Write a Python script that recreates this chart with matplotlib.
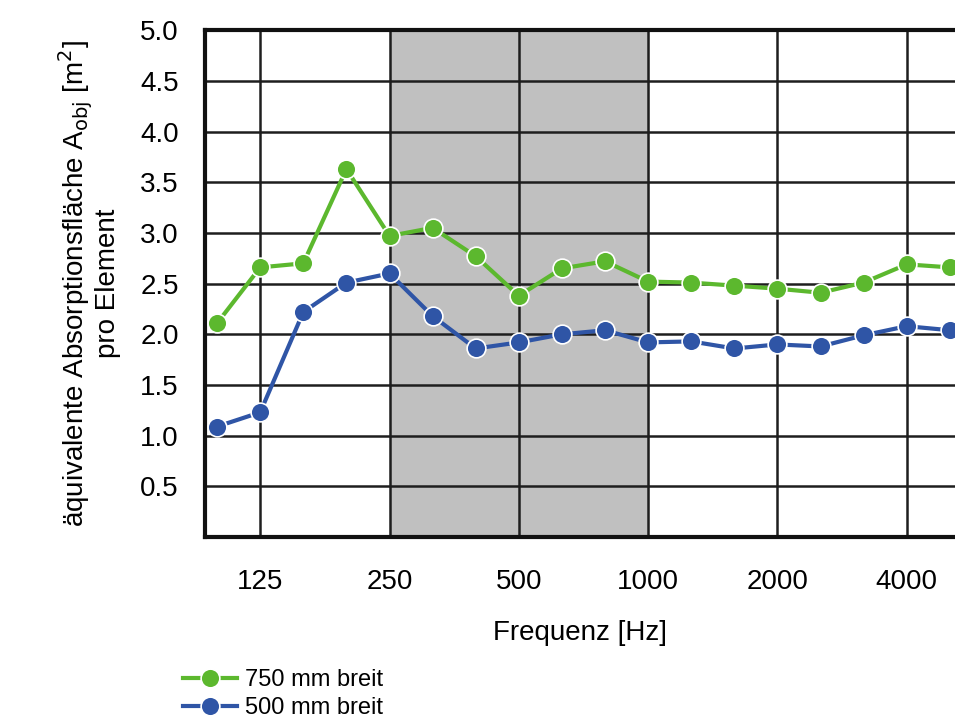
import matplotlib

matplotlib.use("Agg")
import matplotlib.pyplot as plt
import numpy as np

plt.rcParams["font.family"] = ["Liberation Sans", "DejaVu Sans"]

# third-octave bands 100 Hz .. 5000 Hz
bands = [100, 125, 160, 200, 250, 315, 400, 500, 630, 800,
         1000, 1250, 1600, 2000, 2500, 3150, 4000, 5000]
a_750 = [2.11, 2.66, 2.70, 3.63, 2.97, 3.05, 2.77, 2.38, 2.65, 2.72,
         2.52, 2.51, 2.48, 2.45, 2.41, 2.51, 2.69, 2.66]
a_500 = [1.09, 1.23, 2.22, 2.51, 2.60, 2.18, 1.86, 1.92, 2.00, 2.04,
         1.92, 1.93, 1.86, 1.90, 1.88, 1.99, 2.08, 2.04]
tick_labels = [125, 250, 500, 1000, 2000, 4000]
shade_from, shade_to = 250, 1000

GREEN = "#5cb82e"
BLUE = "#2f55a6"

x = np.arange(len(bands))
pos = {b: i for i, b in enumerate(bands)}

fig = plt.figure(figsize=(9.55, 7.18), dpi=100)
ax = fig.add_axes([0.2147, 0.252, 0.7853, 0.706])

ax.axvspan(pos[shade_from], pos[shade_to], color="#c0c0c0", zorder=0)

for y in np.arange(0.5, 5.01, 0.5):
    ax.axhline(y, color="#1e1e1e", lw=1.8, zorder=1)
for t in tick_labels:
    ax.axvline(pos[t], color="#1e1e1e", lw=1.8, zorder=1)

ax.plot(x, a_750, color=GREEN, lw=3, marker="o", ms=13.5, mec="white", mew=1.2,
        label="750 mm breit", zorder=3)
ax.plot(x, a_500, color=BLUE, lw=3, marker="o", ms=13.5, mec="white", mew=1.2,
        label="500 mm breit", zorder=3)

ax.set_xlim(-0.28, 17.12)
ax.set_ylim(0, 5.0)
ax.set_yticks(np.arange(0.5, 5.01, 0.5))
ax.set_yticklabels([f"{v:.1f}" for v in np.arange(0.5, 5.01, 0.5)])
ax.set_xticks([pos[t] for t in tick_labels])
ax.set_xticklabels([str(t) for t in tick_labels])
ax.tick_params(length=0, labelsize=20)
ax.tick_params(axis="x", pad=23)
ax.tick_params(axis="y", pad=19)

for side in ("left", "bottom", "top"):
    ax.spines[side].set_linewidth(3)
    ax.spines[side].set_color("#111111")
ax.spines["right"].set_visible(False)

ax.set_xlabel("Frequenz [Hz]", fontsize=20, labelpad=18)
ax.set_ylabel("äquivalente Absorptionsfläche A$_{\\mathrm{obj}}$ [m$^2$]\npro Element",
              fontsize=20, labelpad=14, linespacing=1.0)

fig.legend(loc="lower left", bbox_to_anchor=(0.172, -0.028), frameon=False,
           fontsize=17, handlelength=2.3, handletextpad=0.3, labelspacing=0.25,
           borderpad=0.3)

fig.savefig("out.png", dpi=100)
